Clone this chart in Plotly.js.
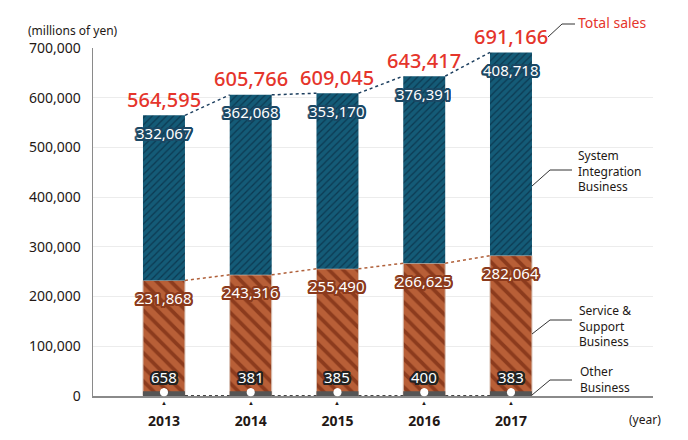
<!DOCTYPE html>
<html>
<head>
<meta charset="utf-8">
<script src="https://cdn.plot.ly/plotly-3.0.1.min.js"></script>
<style>html,body{margin:0;padding:0;background:#fff;}#chart{width:688px;height:440px;}</style>
</head>
<body>
<div id="chart"></div>
<script>
// ---- data ----
const years = ['2013', '2014', '2015', '2016', '2017'];
const systemIntegration = [332067, 362068, 353170, 376391, 408718];
const serviceSupport = [231868, 243316, 255490, 266625, 282064];
const otherBusiness = [658, 381, 385, 400, 383];
const totalSales = [564595, 605766, 609045, 643417, 691166];
const yTicks = [0, 100000, 200000, 300000, 400000, 500000, 600000, 700000];

// ---- derived ----
const idx = years.map((_, i) => i);
const serviceBase = otherBusiness.slice();
const siBase = otherBusiness.map((v, i) => v + serviceSupport[i]);
const siTop = siBase.map((v, i) => v + systemIntegration[i]);
const W = 0.484;
const FONT = '"Noto Sans", "Open Sans", sans-serif';
const fmt = v => v.toLocaleString('en-US');

function connector(vals) {
  const xs = [], ys = [];
  for (let i = 0; i < vals.length - 1; i++) {
    xs.push(i + W / 2, i + 1 - W / 2, null);
    ys.push(vals[i], vals[i + 1], null);
  }
  return {xs, ys};
}
function outline(c) {
  const d = [[2,0],[-2,0],[0,2],[0,-2],[1.5,1.5],[-1.5,1.5],[1.5,-1.5],[-1.5,-1.5],[1,2],[-1,2],[1,-2],[-1,-2],[2,1],[-2,1],[2,-1],[-2,-1]];
  return d.map(p => `${p[0]}px ${p[1]}px 0 ${c}`).join(', ');
}

const traces = [
  {
    type: 'bar', x: idx, y: serviceSupport, base: serviceBase, width: W,
    marker: {color: '#b45a32', line: {color: '#d8c2b6', width: 1},
      pattern: {shape: '\\', fgcolor: '#8c3b1d', bgcolor: '#b85f37', size: 10, solidity: 0.38}},
    hoverinfo: 'skip'
  },
  {
    type: 'bar', x: idx, y: systemIntegration, base: siBase, width: W,
    marker: {color: '#145b77', line: {width: 0},
      pattern: {shape: '/', fgcolor: '#0c3a52', bgcolor: '#145b77', size: 5, solidity: 0.25}},
    hoverinfo: 'skip'
  },
  {
    type: 'bar', x: idx, y: otherBusiness, base: 0, width: W - 0.104,
    marker: {color: '#555555', line: {color: '#555555', width: 9}},
    hoverinfo: 'skip'
  }
];
const c1 = connector(totalSales), c2 = connector(siBase), c3 = connector(otherBusiness);
traces.push({type: 'scatter', mode: 'lines', x: c1.xs, y: c1.ys, line: {color: '#1d3f5f', width: 1.5, dash: 'dot'}, hoverinfo: 'skip', cliponaxis: false});
traces.push({type: 'scatter', mode: 'lines', x: c2.xs, y: c2.ys, line: {color: '#b0603a', width: 1.5, dash: 'dot'}, hoverinfo: 'skip'});
traces.push({type: 'scatter', mode: 'lines', x: c3.xs, y: c3.ys, line: {color: '#444', width: 1.5, dash: 'dot'}, hoverinfo: 'skip'});

const ann = [];
idx.forEach(i => {
  ann.push({x: i, y: totalSales[i], xref: 'x', yref: 'y', text: fmt(totalSales[i]), showarrow: false,
    yshift: 16, yanchor: 'middle', font: {family: FONT, size: 20, color: '#e5352b', weight: 500}});
  ann.push({x: i, y: siTop[i], xref: 'x', yref: 'y', text: fmt(systemIntegration[i]), showarrow: false,
    yshift: -17.5, yanchor: 'middle', font: {family: FONT, size: 15, color: '#ffffff', shadow: outline('#1b4864')}});
  ann.push({x: i, y: siBase[i], xref: 'x', yref: 'y', text: fmt(serviceSupport[i]), showarrow: false,
    yshift: -17.5, yanchor: 'middle', font: {family: FONT, size: 15, color: '#ffffff', shadow: outline('#8b3a1c')}});
  ann.push({x: i, y: otherBusiness[i], xref: 'x', yref: 'y', text: fmt(otherBusiness[i]), showarrow: true,
    ax: 0, ay: -15.5, yshift: 3.5, arrowhead: 6, arrowsize: 1, arrowwidth: 2, arrowcolor: '#ffffff', standoff: 0,
    font: {family: FONT, size: 15, color: '#ffffff', shadow: outline('#222222')}});
  ann.push({x: i, y: -0.02, xref: 'x', yref: 'paper', text: '▲', showarrow: false, yanchor: 'middle',
    font: {family: FONT, size: 6, color: '#231815'}});
});
const px = p => (p - 93) / 560, py = p => (396 - p) / 348;
function label(text, x, yc, color, size) {
  ann.push({xref: 'paper', yref: 'paper', x: px(x), y: py(yc), xanchor: 'left', yanchor: 'middle', align: 'left',
    text: text, showarrow: false, borderpad: 0, font: {family: FONT, size: size, color: color}});
}
label('Total sales', 577, 23, '#e5352b', 14);
label('System<br>Integration<br>Business', 577, 171, '#231815', 12);
label('Service &<br>Support<br>Business', 578, 326, '#231815', 12);
label('Other<br>Business', 579, 379, '#231815', 12);
ann.push({xref: 'paper', yref: 'paper', x: px(73), y: py(30), text: '(millions of yen)', showarrow: false,
  xanchor: 'center', yanchor: 'middle', font: {family: FONT, size: 12, color: '#231815'}});
ann.push({xref: 'paper', yref: 'paper', x: px(645), y: py(420), text: '(year)', showarrow: false,
  xanchor: 'center', yanchor: 'middle', font: {family: FONT, size: 12, color: '#231815'}});

const pathOf = pts => 'M' + pts.map(p => `${px(p[0])},${py(p[1])}`).join(' L');
const shapes = [
  [[548, 37], [562, 24], [575, 24]],
  [[532, 186], [550, 170], [572, 170]],
  [[532, 334], [550, 320], [572, 320]],
  [[532, 395], [550, 380], [572, 380]]
].map(pts => ({type: 'path', xref: 'paper', yref: 'paper', path: pathOf(pts), line: {color: '#333', width: 1}}));

const layout = {
  width: 688, height: 440,
  margin: {l: 93, r: 35, t: 48, b: 44},
  paper_bgcolor: '#ffffff', plot_bgcolor: '#ffffff',
  barmode: 'overlay', showlegend: false,
  font: {family: FONT, color: '#231815'},
  xaxis: {
    range: [-0.818, 5.637], tickvals: idx, ticktext: years, showgrid: false, zeroline: false,
    showline: true, linecolor: '#8a8a8a', linewidth: 1.5, ticks: '', ticklabelstandoff: 12,
    tickfont: {family: FONT, size: 14, color: '#231815', weight: 'bold'}, fixedrange: true
  },
  yaxis: {
    range: [0, 700000], tickvals: yTicks, ticktext: yTicks.map(fmt), showgrid: true, gridcolor: '#ececec', gridwidth: 1,
    zeroline: false, showline: true, linecolor: '#8a8a8a', linewidth: 1.5, ticks: '', ticklabelstandoff: 8,
    tickfont: {family: FONT, size: 14, color: '#231815'}, fixedrange: true
  },
  annotations: ann,
  shapes: shapes
};
Plotly.newPlot('chart', traces, layout, {displayModeBar: false, staticPlot: true});
</script>
</body>
</html>
